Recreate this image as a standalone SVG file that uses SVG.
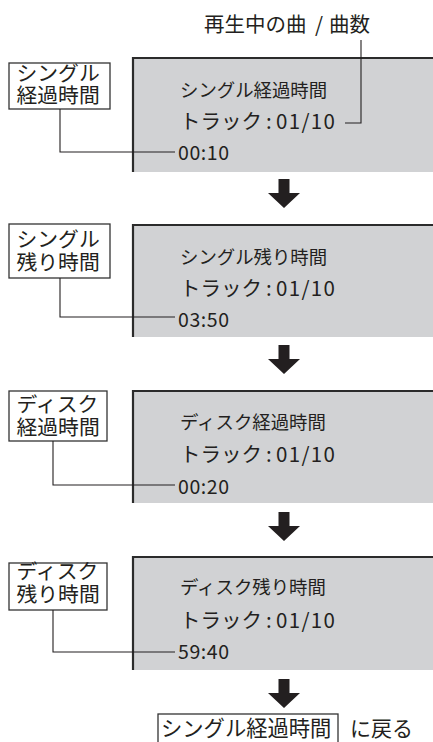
<svg xmlns="http://www.w3.org/2000/svg" width="433" height="742" viewBox="0 0 433 742">
<style>
text{font-family:"Noto Sans CJK JP","Noto Sans",sans-serif;fill:#231f20}
.panel{fill:#d1d2d4}
.pb{fill:none;stroke:#2b2b2b;stroke-width:2.2}
.lbl{fill:#fff;stroke:#333;stroke-width:1.3}
.lt{font-size:20.8px}
.t1{font-size:18.4px}
.t2{font-size:20.5px}
.t3{font-size:19.5px}
.conn{fill:none;stroke:#231f20;stroke-width:1.1}
.arr{fill:#231f20}
</style>
<defs>
<path id="arrow" d="M-5.5,0 H5.5 V14 H16 L0,29 L-16,14 H-5.5 Z"/>
</defs>
<text x="204" y="32" font-size="20.5">再生中の曲 <tspan x="315">/ </tspan><tspan x="329">曲数</tspan></text>

<g id="panel1">
<rect class="panel" x="132" y="57" width="301" height="115"/>
<path class="pb" d="M133,172 V58 H433"/>
<text class="t1" x="180" y="96.5">シングル経過時間</text>
<text class="t2" x="180" y="129">トラック <tspan x="266">: </tspan><tspan x="276" textLength="59">01/10</tspan></text>
<text class="t3" x="178" y="160" textLength="51">00:10</text>
</g>
<g id="label1">
<rect class="lbl" x="9" y="63" width="101" height="46"/>
<text class="lt"><tspan x="16.5" y="81">シングル</tspan><tspan x="16.5" y="103">経過時間</tspan></text>
</g>

<g id="panel2">
<rect class="panel" x="132" y="224" width="301" height="113"/>
<path class="pb" d="M133,337 V225 H433"/>
<text class="t1" x="180" y="263.5">シングル残り時間</text>
<text class="t2" x="180" y="296">トラック <tspan x="266">: </tspan><tspan x="276" textLength="59">01/10</tspan></text>
<text class="t3" x="178" y="327" textLength="51">03:50</text>
</g>
<g id="label2">
<rect class="lbl" x="9" y="224" width="101" height="54"/>
<text class="lt"><tspan x="16.5" y="246.5">シングル</tspan><tspan x="16.5" y="270">残り時間</tspan></text>
</g>

<g id="panel3">
<rect class="panel" x="132" y="390" width="301" height="113"/>
<path class="pb" d="M133,503 V391 H433"/>
<text class="t1" x="180" y="429">ディスク経過時間</text>
<text class="t2" x="180" y="462">トラック <tspan x="266">: </tspan><tspan x="276" textLength="59">01/10</tspan></text>
<text class="t3" x="178" y="493.5" textLength="51">00:20</text>
</g>
<g id="label3">
<rect class="lbl" x="9" y="391" width="98" height="50"/>
<text class="lt"><tspan x="16.5" y="412">ディスク</tspan><tspan x="16.5" y="435">経過時間</tspan></text>
</g>

<g id="panel4">
<rect class="panel" x="132" y="556" width="301" height="114"/>
<path class="pb" d="M133,670 V557 H433"/>
<text class="t1" x="180" y="594">ディスク残り時間</text>
<text class="t2" x="180" y="627.5">トラック <tspan x="266">: </tspan><tspan x="276" textLength="59">01/10</tspan></text>
<text class="t3" x="178" y="658.5" textLength="51">59:40</text>
</g>
<g id="label4">
<rect class="lbl" x="9" y="563" width="98" height="47"/>
<text class="lt"><tspan x="16.5" y="579">ディスク</tspan><tspan x="16.5" y="601.5">残り時間</tspan></text>
</g>

<g id="return">
<rect class="lbl" x="158" y="714" width="180" height="40"/>
<text x="161" y="735.5" font-size="21.3">シングル経過時間</text>
<text x="350" y="735.5" font-size="21">に戻る</text>
</g>

<g id="connectors">
<path class="conn" d="M361,40 V123 H345"/>
<path class="conn" d="M60,109 V152 H175"/>
<path class="conn" d="M60,278 V317 H175"/>
<path class="conn" d="M53,441 V485 H175"/>
<path class="conn" d="M53,610 V652 H175"/>
<use href="#arrow" class="arr" x="284" y="179"/>
<use href="#arrow" class="arr" x="284" y="345"/>
<use href="#arrow" class="arr" x="284" y="512"/>
<use href="#arrow" class="arr" x="284" y="679"/>
</g>
</svg>
